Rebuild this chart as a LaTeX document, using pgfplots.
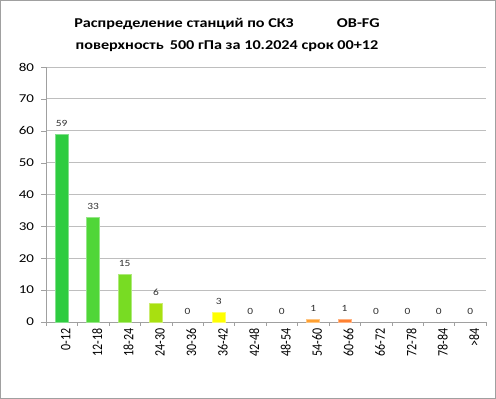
\documentclass[border=0pt]{standalone}
\usepackage{pgfplots}
\pgfplotsset{compat=1.18}
\usepackage{fontspec}
\setmainfont{Carlito}
\definecolor{c1}{RGB}{46,204,64}
\definecolor{c2}{RGB}{80,214,56}
\definecolor{c3}{RGB}{120,220,35}
\definecolor{c4}{RGB}{168,224,16}
\definecolor{c5}{RGB}{255,255,0}
\definecolor{c6}{RGB}{255,160,48}
\definecolor{c7}{RGB}{255,128,48}
\definecolor{gridc}{RGB}{190,190,190}
\definecolor{axc}{RGB}{160,160,160}
\definecolor{lblc}{RGB}{50,50,50}
\begin{document}
\begin{tikzpicture}
\draw[color=axc, line width=1bp] (0.5bp,0.5bp) rectangle (495.5bp,398.5bp);
\node[font=\bfseries\fontsize{13.5bp}{22bp}\selectfont, align=center, xscale=1.2] at (227bp,364bp) {Распределение станций по СКЗ\hspace{36bp}OB-FG\\поверхность\hspace{5bp}500 гПа за 10.2024 срок 00+12};
\begin{axis}[
  at={(46bp,77bp)}, anchor=south west,
  scale only axis, width=440bp, height=255bp,
  xmin=-0.5, xmax=13.5, ymin=0, ymax=80,
  ytick={0,10,...,80},
  xtick={0,...,13},
  xticklabels={0-12,12-18,18-24,24-30,30-36,36-42,42-48,48-54,54-60,60-66,66-72,72-78,78-84,>84},
  x tick label style={rotate=90, anchor=east, font=\fontsize{12bp}{14bp}\selectfont, inner sep=1bp, yshift=-4bp, yscale=1.2},
  y tick label style={font=\fontsize{12bp}{14bp}\selectfont, xscale=1.25, xshift=-2bp},
  major x tick style={draw=none},
  minor xtick={-0.5,0.5,...,13.5},
  minor x tick style={color=axc},
  minor tick length=4bp,
  major tick length=5bp,
  tick align=outside,
  y tick style={color=axc},
  ymajorgrids, grid style={color=gridc, line width=0.8bp},
  axis x line*=bottom, axis y line*=left,
  axis line style={color=axc, line width=0.8bp, -},
  /pgf/number format/assume math mode=true,
  ybar, bar width=13bp,
  nodes near coords,
  every node near coord/.append style={font=\fontsize{9.5bp}{11bp}\selectfont, color=lblc, xscale=1.2, yshift=4bp},
  clip=false,
]
\addplot[bar shift=0, fill=c1, draw=c1!60!white] coordinates {(0,59)};
\addplot[bar shift=0, fill=c2, draw=c2!60!white] coordinates {(1,33)};
\addplot[bar shift=0, fill=c3, draw=c3!60!white] coordinates {(2,15)};
\addplot[bar shift=0, fill=c4, draw=c4!60!white] coordinates {(3,6)};
\addplot[bar shift=0, fill=c5, draw=c5!60!white] coordinates {(5,3)};
\addplot[bar shift=0, fill=c6, draw=c6!60!white] coordinates {(8,1)};
\addplot[bar shift=0, fill=c7, draw=c7!60!white] coordinates {(9,1)};
\addplot[bar shift=0, draw=none, fill=none] coordinates {(4,0) (6,0) (7,0) (10,0) (11,0) (12,0) (13,0)};
\end{axis}
\end{tikzpicture}
\end{document}
